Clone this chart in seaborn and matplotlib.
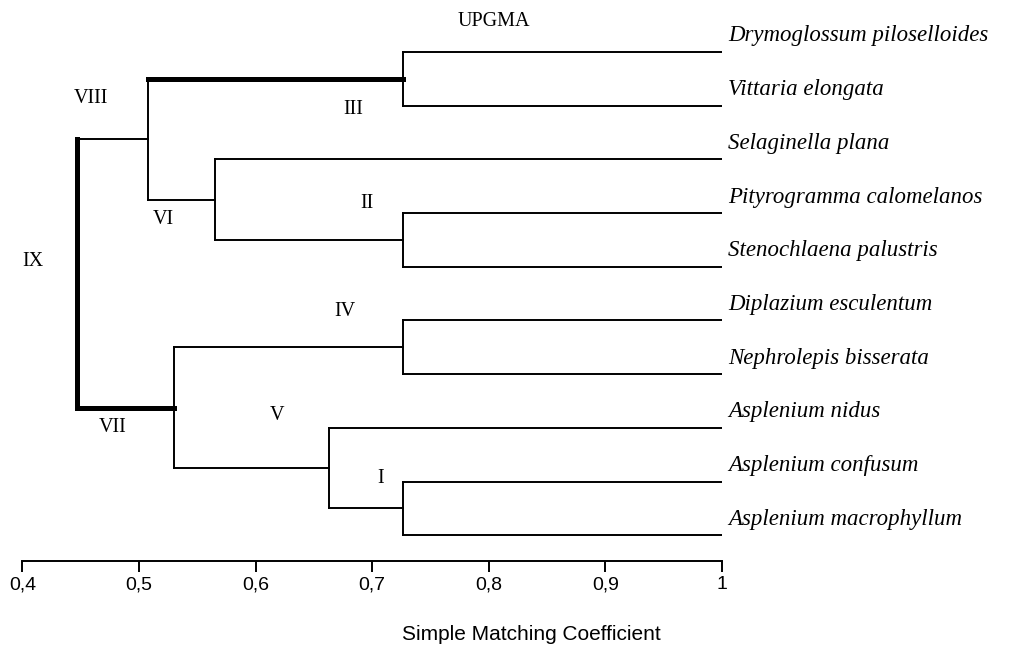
import matplotlib
matplotlib.use("Agg")
import matplotlib.pyplot as plt
import seaborn as sns
import pandas as pd

# ---------------- data ----------------
leaves = [
    "Drymoglossum piloselloides",
    "Vittaria elongata",
    "Selaginella plana",
    "Pityrogramma calomelanos",
    "Stenochlaena palustris",
    "Diplazium esculentum",
    "Nephrolepis bisserata",
    "Asplenium nidus",
    "Asplenium confusum",
    "Asplenium macrophyllum",
]
# UPGMA merges (cluster name, left child, right child, similarity)
merge_names = ["III", "II", "VI", "VIII", "IV", "I", "V", "VII", "IX"]
merge_left = ["Drymoglossum piloselloides", "Pityrogramma calomelanos", "Selaginella plana",
              "III", "Diplazium esculentum", "Asplenium confusum", "Asplenium nidus", "IV", "VIII"]
merge_right = ["Vittaria elongata", "Stenochlaena palustris", "II",
               "VI", "Nephrolepis bisserata", "Asplenium macrophyllum", "I", "V", "VII"]
merge_height = [0.726, 0.726, 0.565, 0.508, 0.726, 0.726, 0.663, 0.530, 0.447]
tick_values = [0.4, 0.5, 0.6, 0.7, 0.8, 0.9, 1.0]
tick_labels = ["0,4", "0,5", "0,6", "0,7", "0,8", "0,9", "1"]
title = "UPGMA"
x_label = "Simple Matching Coefficient"

# ---------------- build segments ----------------
pos = {name: (1.0, i) for i, name in enumerate(leaves)}  # (x, y) of each node
segments = []  # (seg_id, x, y, thick)
thick_links = {("VIII", "III"), ("IX", "VII")}
thick_vertical = {"IX"}
sid = 0
for name, l, r, h in zip(merge_names, merge_left, merge_right, merge_height):
    (xl, yl), (xr, yr) = pos[l], pos[r]
    for child, (cx, cy) in ((l, (xl, yl)), (r, (xr, yr))):
        thick = (name, child) in thick_links
        segments += [(sid, h, cy, thick), (sid, cx, cy, thick)]
        sid += 1
    thick = name in thick_vertical
    segments += [(sid, h, yl, thick), (sid, h, yr, thick)]
    sid += 1
    pos[name] = (h, (yl + yr) / 2)

df = pd.DataFrame(segments, columns=["seg", "x", "y", "thick"])

# ---------------- plot ----------------
sns.set_theme(style="white")
plt.rcParams["font.family"] = ["Liberation Serif", "DejaVu Serif"]
plt.rcParams["text.color"] = "black"
plt.rcParams["xtick.color"] = "black"
plt.rcParams["xtick.labelcolor"] = "black"

W, H = 1013, 655
fig = plt.figure(figsize=(W / 100, H / 100), dpi=100)
ax = fig.add_axes([22.5 / W, (H - 561) / H, 699.5 / W, 536 / H])

for thick, lw in ((False, 1.4), (True, 3.6)):
    sub = df[df["thick"] == thick]
    sns.lineplot(data=sub, x="x", y="y", units="seg", estimator=None, sort=False,
                 color="black", linewidth=lw, ax=ax, legend=False,
                 solid_capstyle="projecting")

ax.set_xlim(0.4, 1.0)
ax.set_ylim(9.48, -0.5)

for s in ("top", "right", "left"):
    ax.spines[s].set_visible(False)
ax.spines["bottom"].set_color("black")
ax.spines["bottom"].set_linewidth(1.4)
ax.set_yticks([])
ax.set_ylabel("")
ax.set_xticks(tick_values)
ax.set_xticklabels(tick_labels, fontfamily="Liberation Sans", fontsize=14, color="black")
ax.tick_params(axis="x", direction="out", length=8, width=1.4, color="black",
               pad=3, bottom=True)
ax.set_xlabel("")

# leaf labels
for i, name in enumerate(leaves):
    ax.annotate(name, xy=(1.0, i), xytext=(4.5, 11.5), textcoords="offset points",
                ha="left", va="center", fontsize=16.5, style="italic", color="black",
                annotation_clip=False)

# cluster numerals
numeral_xy = {
    "VIII": (0.4588, 0.87), "III": (0.6835, 1.08), "II": (0.6955, 2.83),
    "VI": (0.5205, 3.13), "IX": (0.4090, 3.91), "IV": (0.6766, 4.84),
    "VII": (0.4776, 6.99), "V": (0.6183, 6.78), "I": (0.7075, 7.94),
}
for name in merge_names:
    x, y = numeral_xy[name]
    ax.text(x, y, name, ha="center", va="center", fontsize=14.5, color="black")

ax.text(0.8044, -0.56, title, ha="center", va="center", fontsize=14.5, color="black",
        clip_on=False)

fig.text(531 / W, 1 - 635 / H, x_label, ha="center", va="center",
         fontsize=15, fontfamily="Liberation Sans", color="black")

fig.savefig("out.png", dpi=100, facecolor="white")
